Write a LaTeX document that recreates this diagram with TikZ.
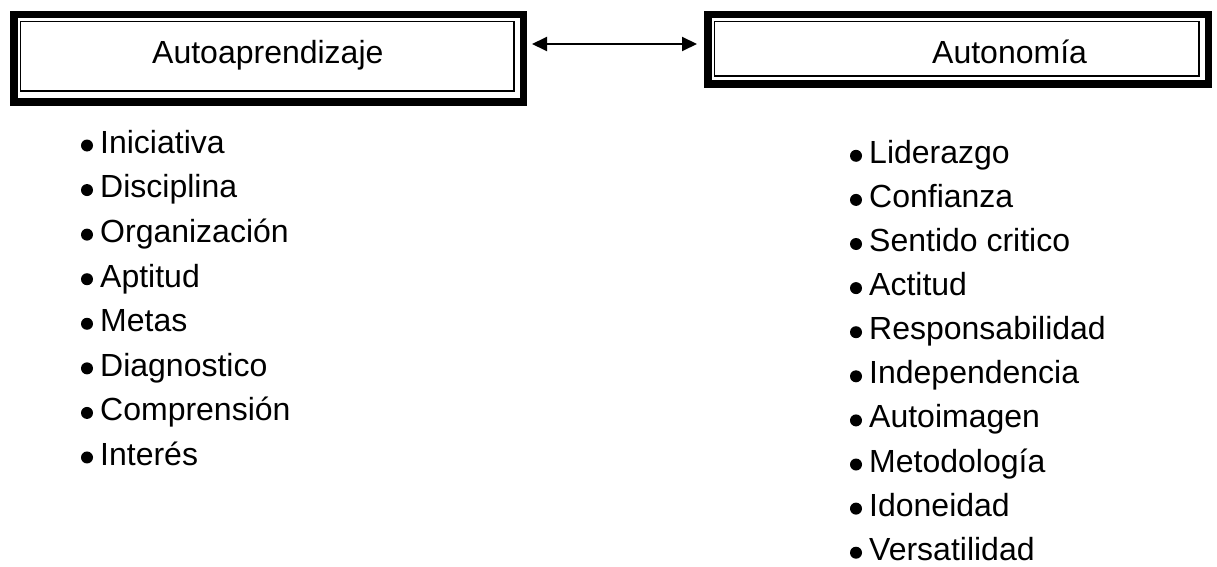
\documentclass[tikz,border=0pt]{standalone}
\usepackage{fontspec}
\setmainfont{Liberation Sans}
\usetikzlibrary{arrows.meta}
\begin{document}
\begin{tikzpicture}[x=1pt,y=1pt,
  bigfont/.style={font=\fontsize{32}{36}\selectfont},
  outerbox/.style={draw=black,line width=7.5pt,minimum width=#1,inner sep=0pt},
  innerline/.style={draw=black,line width=1.8pt},
  label/.style={bigfont,inner sep=0pt,anchor=base west},
  item/.style={bigfont,inner sep=0pt,anchor=base west},
  biarrow/.style={line width=2pt,{Triangle[length=15pt,width=14pt]}-{Triangle[length=15pt,width=14pt]}}]
\useasboundingbox (0,0) rectangle (1217,-567);
% boxes
\node[outerbox=509.5pt,minimum height=87.5pt] (b1) at (268.5,-58.5) {};
\node[outerbox=500.5pt,minimum height=69.5pt] (b2) at (958,-49.5) {};
\draw[innerline] ([shift={(10.5,-10.5)}]b1.north west) rectangle ([shift={(-13,15)}]b1.south east);
\draw[innerline] ([shift={(10.5,-10.5)}]b2.north west) rectangle ([shift={(-13,12)}]b2.south east);
\node[label] (t1) at (152,-64) {Autoaprendizaje};
\node[label] (t2) at (932,-64) {Autonomía};
% connector
\draw[biarrow] ([xshift=5pt,yshift=14.5pt]b1.east) -- ([xshift=-7pt,yshift=5.5pt]b2.west);
% left list
\foreach \t [count=\i from 0] in {Iniciativa,Disciplina,Organización,Aptitud,Metas,Diagnostico,Comprensión,Interés}{
  \node[item] (l\i) at (100,{-153.3-\i*44.57}) {\t};
  \fill ([xshift=-13pt,yshift=7.8pt]l\i.base west) circle (6pt);
}
% right list
\foreach \t [count=\i from 0] in {Liderazgo,Confianza,Sentido critico,Actitud,Responsabilidad,Independencia,Autoimagen,Metodología,Idoneidad,Versatilidad}{
  \node[item] (r\i) at (869,{-163.3-\i*44.1}) {\t};
  \fill ([xshift=-13pt,yshift=7.5pt]r\i.base west) circle (6pt);
}
\end{tikzpicture}
\end{document}
